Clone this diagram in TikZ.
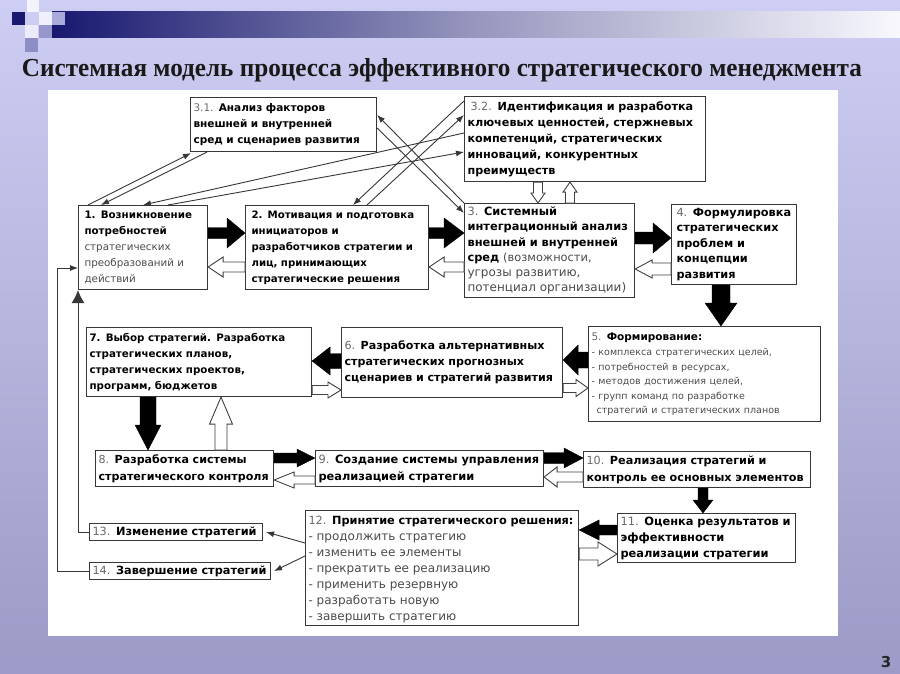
\documentclass[tikz,border=0pt]{standalone}
\usepackage{fontspec}
\usepackage{graphicx}
\setmainfont{DejaVu Sans}
\newfontfamily\titlefont{Liberation Serif}
\usetikzlibrary{calc,arrows.meta}

\definecolor{bgtop}{RGB}{206,206,244}
\definecolor{bgbot}{RGB}{156,154,198}
\definecolor{navy}{RGB}{24,24,112}
\definecolor{numgray}{RGB}{105,105,105}
\definecolor{litegray}{RGB}{75,75,75}
\definecolor{edge}{RGB}{55,55,55}

\newcommand\nr[1]{{\mdseries\color{numgray}#1}}
\newcommand\lite[1]{{\mdseries\color{litegray}#1}}

\tikzset{
  stage/.style={draw=edge, line width=1.1pt, fill=white, anchor=north west,
    align=left, inner xsep=3pt, inner ysep=2pt,
    font=\bfseries\fontsize{10.5}{16}\selectfont},
  arrowbody/.style n args={3}{to path={
    let \p1=(\tikztostart), \p2=(\tikztotarget),
        \n1={atan2(\y2-\y1,\x2-\x1)}, \n2={veclen(\x2-\x1,\y2-\y1)} in
    ($(\p1)+({\n1+90}:#1)$)
    -- ($(\p1)+(\n1:{\n2-#3})+({\n1+90}:#1)$)
    -- ($(\p1)+(\n1:{\n2-#3})+({\n1+90}:#2)$)
    -- (\p2)
    -- ($(\p1)+(\n1:{\n2-#3})+({\n1-90}:#2)$)
    -- ($(\p1)+(\n1:{\n2-#3})+({\n1-90}:#1)$)
    -- ($(\p1)+({\n1-90}:#1)$) -- cycle}},
  blockfill/.style={fill=black, draw=black, line width=0.4pt},
  hollowfill/.style={fill=white, draw=black!75, line width=0.9pt},
  link/.style={draw=edge, line width=0.9pt, -{Latex[length=8pt,width=6pt]}},
}

\begin{document}
\begin{tikzpicture}[x=1pt, y=1pt]
\useasboundingbox (0,0) rectangle (900,-674);
% slide background
\shade[top color=bgtop, bottom color=bgbot] (0,0) rectangle (900,-674);
\shade[left color=navy, right color=white!85!bgtop, middle color=navy!45!white] (52,-12) rectangle (900,-38);
\fill[navy] (12,-12) rectangle (25,-25);
\fill[white!75!bgtop] (27,0) rectangle (39,-12);
\fill[white!70!bgtop] (39,-12) rectangle (52,-25);
\fill[navy!30!bgtop] (39,-25) rectangle (52,-38);
\fill[navy!20!bgtop] (52,-12) rectangle (65,-25);
\fill[white!60!bgtop] (25,-25) rectangle (38,-38);
\fill[navy!35!bgtop] (25,-38) rectangle (38,-52);
\node[font=\titlefont\bfseries, text=black!90] (title) at (442,-70)
  {\resizebox{840pt}{18pt}{Системная модель процесса эффективного стратегического менеджмента}};
\fill[white] (48,-90) rectangle (838,-636);
\node[font=\bfseries\fontsize{15}{15}\selectfont, text=black!85] (pagenum) at (886,-662) {3};

% stages
\node[stage, text width=180pt, minimum height=54pt] (b31) at (190,-97)
  {\nr{3.1.} Анализ факторов\\внешней и внутренней\\сред и сценариев развития};
\node[stage, text width=235pt, minimum height=85pt, font=\bfseries\fontsize{11.2}{16}\selectfont] (b32) at (464,-96)
  {\hspace*{3pt}\nr{3.2.} Идентификация и разработка\\ключевых ценностей, стержневых\\компетенций, стратегических\\инноваций, конкурентных\\преимуществ};
\node[stage, text width=117pt, minimum height=84pt, inner xsep=6pt, font=\bfseries\fontsize{10.3}{16}\selectfont] (b1) at (78,-205)
  {1. Возникновение\\потребностей\\\lite{стратегических}\\\lite{преобразований и}\\\lite{действий}};
\node[stage, text width=171pt, minimum height=84pt, inner xsep=6pt, font=\bfseries\fontsize{10.2}{16}\selectfont] (b2) at (245,-205)
  {2. Мотивация и подготовка\\инициаторов и\\разработчиков стратегии и\\лиц, принимающих\\стратегические решения};
\node[stage, text width=164pt, minimum height=94pt, font=\bfseries\fontsize{11.4}{15.3}\selectfont] (b3) at (464,-203)
  {\nr{3.} Системный\\интеграционный анализ\\внешней и внутренней\\сред \lite{(возможности,}\\\lite{\fontsize{12}{15.3}\selectfont угрозы развитию,}\\\lite{\fontsize{12}{15.3}\selectfont потенциал организации)}};
\node[stage, text width=115pt, minimum height=80pt, inner xsep=5pt, font=\bfseries\fontsize{11.3}{15.5}\selectfont] (b4) at (671,-204)
  {\nr{4.} Формулировка\\стратегических\\проблем и\\концепции\\развития};
\node[stage, text width=226pt, minimum height=95pt, font=\bfseries\fontsize{10.5}{14.5}\selectfont] (b5) at (588,-326)
  {\nr{5.} Формирование:\\[1pt]
   \lite{\fontsize{9.5}{14.5}\selectfont - комплекса стратегических целей,}\\
   \lite{\fontsize{9.5}{14.5}\selectfont - потребностей в ресурсах,}\\
   \lite{\fontsize{9.5}{14.5}\selectfont - методов достижения целей,}\\
   \lite{\fontsize{9.5}{14.5}\selectfont - групп команд по разработке}\\
   \lite{\fontsize{9.5}{14.5}\selectfont \hspace*{5pt}стратегий и стратегических планов}\\[4pt]};
\node[stage, text width=215pt, minimum height=70pt, font=\bfseries\fontsize{11.1}{16}\selectfont] (b6) at (341,-327)
  {\nr{6.} Разработка альтернативных\\стратегических прогнозных\\сценариев и стратегий развития};
\node[stage, text width=219pt, minimum height=69pt, font=\bfseries\fontsize{10.3}{16}\selectfont] (b7) at (86,-327)
  {7. Выбор стратегий. Разработка\\стратегических планов,\\стратегических проектов,\\программ, бюджетов\\[2pt]};
\node[stage, text width=172pt, minimum height=36pt, font=\bfseries\fontsize{11.1}{17}\selectfont] (b8) at (95,-450)
  {\nr{8.} Разработка системы\\стратегического контроля};
\node[stage, text width=222pt, minimum height=36pt, font=\bfseries\fontsize{11.4}{17}\selectfont] (b9) at (315,-450)
  {\nr{9.} Создание системы управления\\реализацией стратегии};
\node[stage, text width=221pt, minimum height=36pt, font=\bfseries\fontsize{11.2}{17}\selectfont] (b10) at (583,-451)
  {\nr{10.} Реализация стратегий и\\контроль ее основных элементов};
\node[stage, text width=172pt, minimum height=49pt, font=\bfseries\fontsize{11.4}{16}\selectfont] (b11) at (617,-513)
  {\nr{11.} Оценка результатов и\\эффективности\\реализации стратегии};
\node[stage, text width=267pt, minimum height=115pt, font=\bfseries\fontsize{11.3}{16}\selectfont] (b12) at (305,-510)
  {\rule{0pt}{12pt}\nr{12.} Принятие стратегического решения:\\
   \lite{\fontsize{12}{16}\selectfont - продолжить стратегию}\\
   \lite{\fontsize{12}{16}\selectfont - изменить ее элементы}\\
   \lite{\fontsize{12}{16}\selectfont - прекратить ее реализацию}\\
   \lite{\fontsize{12}{16}\selectfont - применить резервную}\\
   \lite{\fontsize{12}{16}\selectfont - разработать новую}\\
   \lite{\fontsize{12}{16}\selectfont - завершить стратегию}};
\node[stage, text width=167pt, minimum height=17pt, inner ysep=1pt, font=\bfseries\fontsize{11.3}{13}\selectfont] (b13) at (89,-523)
  {\nr{13.} Изменение стратегий};
\node[stage, text width=175pt, minimum height=17pt, inner ysep=1pt, font=\bfseries\fontsize{11.3}{13}\selectfont] (b14) at (89,-562)
  {\nr{14.} Завершение стратегий};

% main flow, black arrows
\draw[blockfill, arrowbody={5.5}{15}{18}] ([yshift=-28pt]b1.north east) to ([yshift=-28pt]b1.north east -| b2.west);
\draw[blockfill, arrowbody={5.5}{15}{20}] ([yshift=-28pt]b2.north east) to ([yshift=-28pt]b2.north east -| b3.west);
\draw[blockfill, arrowbody={6}{15}{18}] ([yshift=-35pt]b3.north east) to ([yshift=-35pt]b3.north east -| b4.west);
\draw[blockfill, arrowbody={9}{16}{23}] ([xshift=50pt]b4.south west) to ([xshift=50pt]b4.south west |- b5.north);
\draw[blockfill, arrowbody={8}{15}{15}] ([yshift=-34pt]b5.north west) to ([yshift=-34pt]b5.north west -| b6.east);
\draw[blockfill, arrowbody={7.5}{14}{18}] ([yshift=-34pt]b6.north west) to ([yshift=-34pt]b6.north west -| b7.east);
\draw[blockfill, arrowbody={8}{13}{25}] ([xshift=62pt]b7.south west) to ([xshift=62pt]b7.south west |- b8.north);
\draw[blockfill, arrowbody={5}{9}{18}] ([yshift=-8pt]b8.north east) to ([yshift=-8pt]b8.north east -| b9.west);
\draw[blockfill, arrowbody={5.5}{10}{19}] ([yshift=-8pt]b9.north east) to ([yshift=-8pt]b9.north east -| b10.west);
\draw[blockfill, arrowbody={5}{10}{13}] ([xshift=120pt]b10.south west) to ([xshift=120pt]b10.south west |- b11.north);
\draw[blockfill, arrowbody={5}{10}{20}] ([yshift=-17pt]b11.north west) to ([yshift=-17pt]b11.north west -| b12.east);

% feedback, hollow arrows
\draw[hollowfill, arrowbody={5}{10}{15}] ([yshift=-62pt]b2.north west) to ([yshift=-62pt]b2.north west -| b1.east);
\draw[hollowfill, arrowbody={5}{10}{15}] ([yshift=-64pt]b3.north west) to ([yshift=-64pt]b3.north west -| b2.east);
\draw[hollowfill, arrowbody={6}{9}{17}] ([yshift=-65pt]b4.north west) to ([yshift=-65pt]b4.north west -| b3.east);
\draw[hollowfill, arrowbody={4.5}{7}{10}] ([xshift=74pt]b32.south west) to ([xshift=74pt]b32.south west |- b3.north);
\draw[hollowfill, arrowbody={4.5}{7}{10}] ([xshift=106pt]b3.north west) to ([xshift=106pt]b3.north west |- b32.south);
\draw[hollowfill, arrowbody={4.5}{8.5}{12}] ([yshift=-61pt]b6.north east) to ([yshift=-61pt]b6.north east -| b5.west);
\draw[hollowfill, arrowbody={4.5}{8}{13}] ([yshift=-63pt]b7.north east) to ([yshift=-63pt]b7.north east -| b6.west);
\draw[hollowfill, arrowbody={6}{11.5}{27}] ([xshift=126pt]b8.north west) to ([xshift=126pt]b8.north west |- b7.south);
\draw[hollowfill, arrowbody={4}{8}{20}] ([yshift=-30pt]b9.north west) to ([yshift=-30pt]b9.north west -| b8.east);
\draw[hollowfill, arrowbody={5}{10}{13}] ([yshift=-26pt]b10.north west) to ([yshift=-26pt]b10.north west -| b9.east);
\draw[hollowfill, arrowbody={6}{12}{19}] ([yshift=-44pt]b12.north east) to ([yshift=-44pt]b12.north east -| b11.west);

% analysis links
\draw[link] ([xshift=10pt]b1.north west) -- ([xshift=1pt,yshift=-1pt]b31.south west);
\draw[link] ([xshift=17pt]b31.south west) -- ([xshift=23pt]b1.north west);
\draw[link] ([yshift=-37pt]b32.north west) -- ([xshift=65pt]b1.north west);
\draw[link] ([xshift=90pt]b1.north west) -- ([yshift=-56pt]b32.north west);
\draw[link] ([yshift=-5pt]b32.north west) -- ([xshift=108pt]b2.north west);
\draw[link] ([xshift=122pt]b2.north west) -- ([yshift=-19pt]b32.north west);
\draw[link] (b3.north west) -- ([yshift=-18pt]b31.north east);
\draw[link] ([yshift=-31pt]b31.north east) -- ([yshift=-10pt]b3.north west);

% decisions back to start
\draw[link] ([yshift=-33pt]b12.north west) -- ([xshift=3pt]b13.east);
\draw[link] ([yshift=-46pt]b12.north west) -- ([xshift=3pt]b14.east);
\draw[draw=edge, line width=0.9pt, -{Latex[length=13pt,width=13pt]}] (b13.west) -| (b1.south west);
\draw[link] (b14.west) -- ++(-32pt,0) |- ([yshift=-63pt]b1.north west);
\end{tikzpicture}
\end{document}
